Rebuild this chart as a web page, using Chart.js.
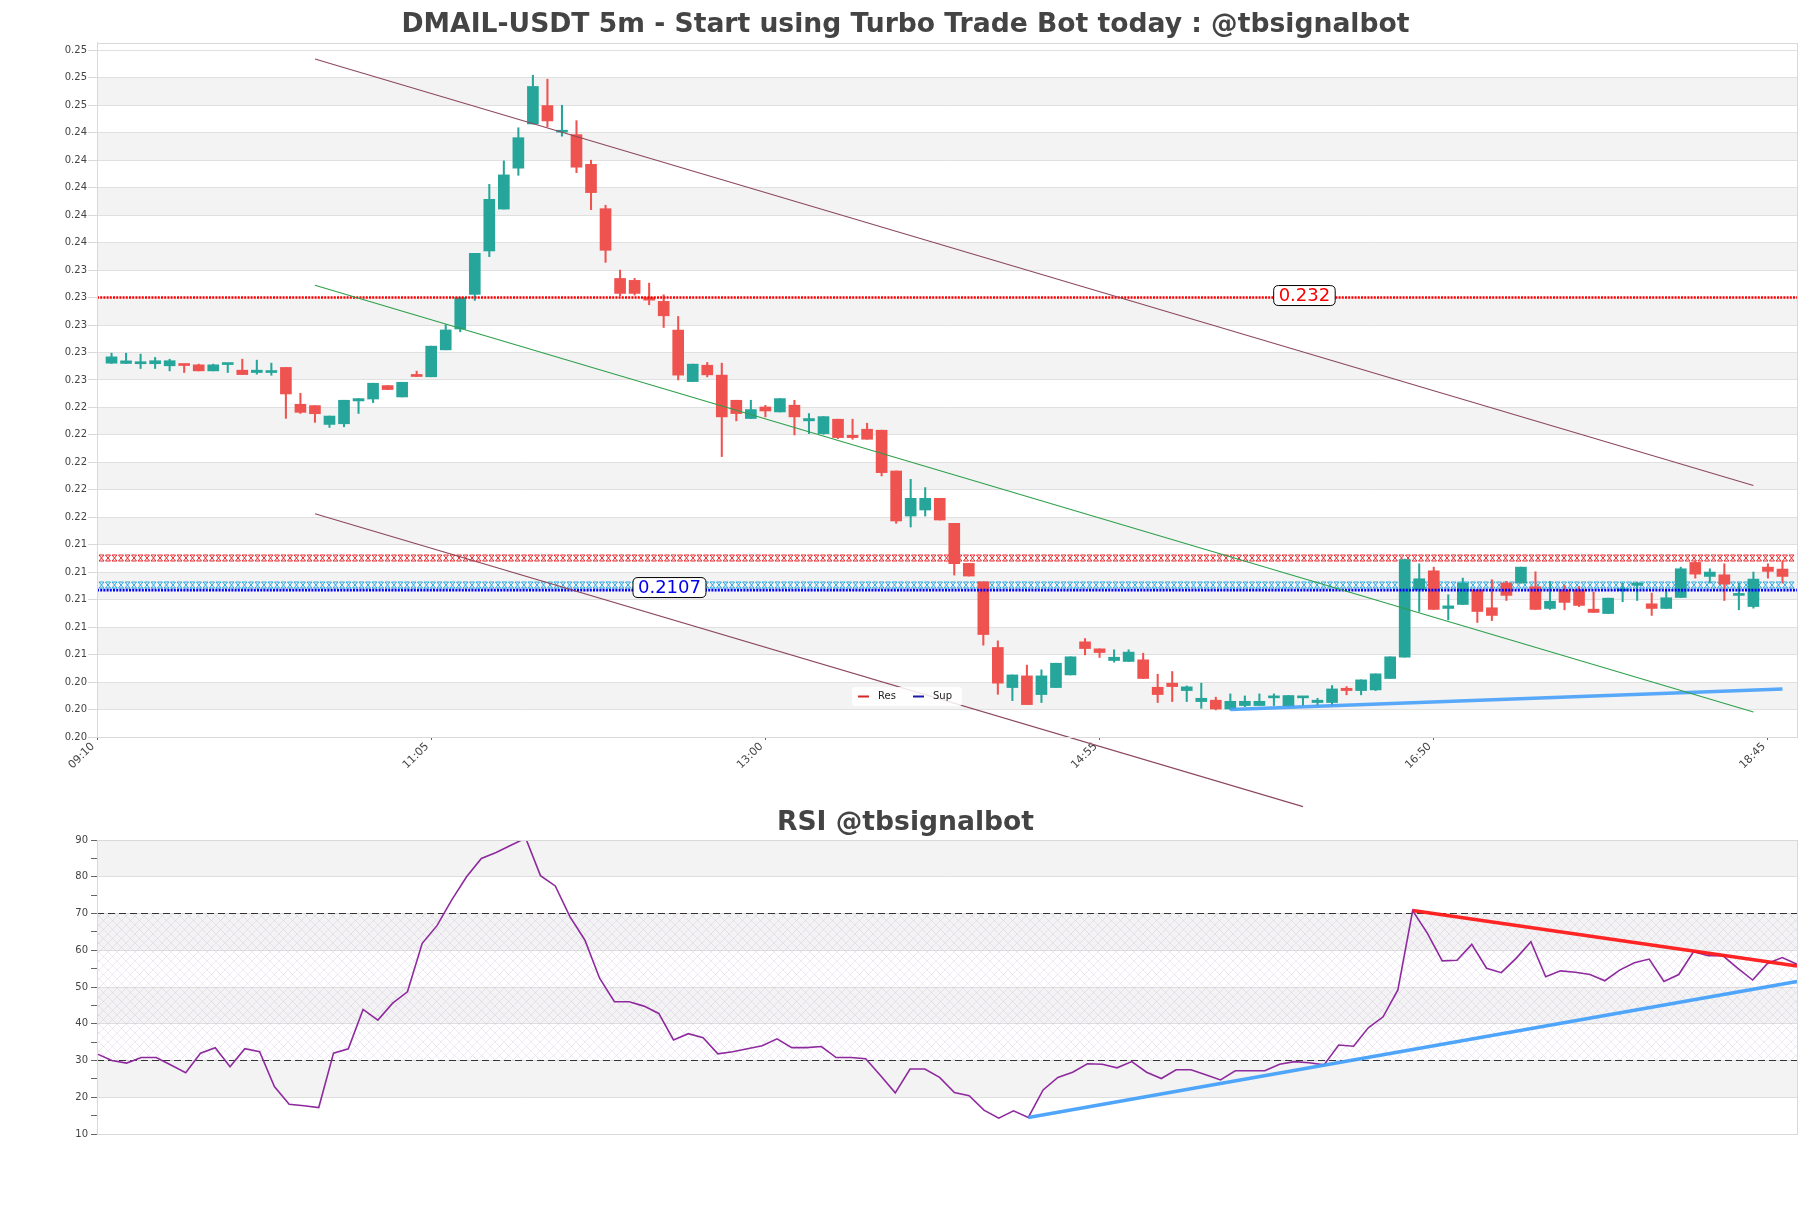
<!DOCTYPE html>
<html><head><meta charset="utf-8">
<script src="https://cdn.jsdelivr.net/npm/chart.js@4.4.1/dist/chart.umd.min.js"></script>
<style>
html,body{margin:0;padding:0;background:#fff;width:1811px;height:1208px;overflow:hidden;}
#main{position:absolute;left:0;top:0;}
#rsi{position:absolute;left:0;top:790px;}
</style></head><body>
<canvas id="main" width="1811" height="810"></canvas>
<canvas id="rsi" width="1811" height="418"></canvas>
<script>
// ---------------- DATA ----------------
const times = [
 '09:15','09:20','09:25','09:30','09:35','09:40','09:45','09:50','09:55',
 '10:00','10:05','10:10','10:15','10:20','10:25','10:30','10:35','10:40','10:45','10:50','10:55',
 '11:00','11:05','11:10','11:15','11:20','11:25','11:30','11:35','11:40','11:45','11:50','11:55',
 '12:00','12:05','12:10','12:15','12:20','12:25','12:30','12:35','12:40','12:45','12:50','12:55',
 '13:00','13:05','13:10','13:15','13:20','13:25','13:30','13:35','13:40','13:45','13:50','13:55',
 '14:00','14:05','14:10','14:15','14:20','14:25','14:30','14:35','14:40','14:45','14:50','14:55',
 '15:00','15:05','15:10','15:15','15:20','15:25','15:30','15:35','15:40','15:45','15:50','15:55',
 '16:00','16:05','16:10','16:15','16:20','16:25','16:30','16:35','16:40','16:45','16:50','16:55',
 '17:00','17:05','17:10','17:15','17:20','17:25','17:30','17:35','17:40','17:45','17:50','17:55',
 '18:00','18:05','18:10','18:15','18:20','18:25','18:30','18:35','18:40','18:45','18:50'
];
const axisStart = '09:10';
const axisEnd = '18:55';
const xTickLabels = ['09:10','11:05','13:00','14:55','16:50','18:45'];

const opens = [
 0.22722,0.22720,0.22718,0.22718,0.22703,0.22715,0.22710,0.22666,0.22712,0.22671,
 0.22654,0.22654,0.22691,0.22423,0.22413,0.22276,0.22281,0.22447,0.22461,0.22559,
 0.22476,0.22640,0.22623,0.22819,0.22971,0.23223,0.23539,0.23844,0.24142,0.24464,
 0.24598,0.24404,0.24386,0.24170,0.23847,0.23339,0.23325,0.23200,0.23172,0.22963,
 0.22588,0.22707,0.22635,0.22452,0.22319,0.22403,0.22367,0.22416,0.22302,0.22209,
 0.22314,0.22197,0.22241,0.22234,0.21937,0.21609,0.21653,0.21738,0.21556,0.21264,
 0.21130,0.20652,0.20360,0.20445,0.20309,0.20360,0.20452,0.20693,0.20642,0.20557,
 0.20550,0.20562,0.20362,0.20392,0.20338,0.20258,0.20268,0.20204,0.20229,0.20229,
 0.20285,0.20226,0.20285,0.20251,0.20251,0.20355,0.20338,0.20343,0.20426,0.20581,
 0.21072,0.21210,0.20936,0.20965,0.21072,0.20941,0.21121,0.21121,0.21094,0.20936,
 0.21072,0.21072,0.20931,0.20899,0.21065,0.21104,0.20970,0.20936,0.21016,0.21271,
 0.21169,0.21181,0.21031,0.20950,0.21237,0.21223
];
const highs = [
 0.22795,0.22795,0.22788,0.22764,0.22751,0.22715,0.22715,0.22715,0.22718,0.22751,
 0.22744,0.22722,0.22691,0.22503,0.22413,0.22337,0.22452,0.22464,0.22576,0.22559,
 0.22583,0.22664,0.22846,0.23002,0.23200,0.23522,0.24024,0.24195,0.24436,0.24819,
 0.24790,0.24600,0.24488,0.24200,0.23872,0.23400,0.23339,0.23305,0.23220,0.23062,
 0.22715,0.22727,0.22722,0.22452,0.22452,0.22415,0.22464,0.22452,0.22355,0.22333,
 0.22314,0.22314,0.22285,0.22234,0.21937,0.21876,0.21816,0.21738,0.21556,0.21264,
 0.21130,0.20700,0.20452,0.20523,0.20489,0.20537,0.20584,0.20717,0.20642,0.20635,
 0.20635,0.20610,0.20457,0.20477,0.20372,0.20392,0.20290,0.20314,0.20299,0.20314,
 0.20314,0.20302,0.20294,0.20282,0.20375,0.20367,0.20416,0.20460,0.20584,0.21296,
 0.21261,0.21237,0.21036,0.21157,0.21072,0.21145,0.21133,0.21237,0.21203,0.21133,
 0.21104,0.21096,0.21055,0.21011,0.21121,0.21126,0.21048,0.21072,0.21237,0.21283,
 0.21225,0.21261,0.21121,0.21201,0.21261,0.21279
];
const lows = [
 0.22720,0.22720,0.22683,0.22683,0.22666,0.22654,0.22666,0.22666,0.22654,0.22639,
 0.22642,0.22634,0.22320,0.22356,0.22291,0.22254,0.22259,0.22356,0.22435,0.22530,
 0.22476,0.22625,0.22623,0.22819,0.22951,0.23179,0.23498,0.23844,0.24090,0.24464,
 0.24443,0.24375,0.24109,0.23840,0.23456,0.23213,0.23218,0.23147,0.22982,0.22600,
 0.22588,0.22622,0.22042,0.22302,0.22319,0.22331,0.22367,0.22200,0.22209,0.22204,
 0.22173,0.22168,0.22168,0.21901,0.21556,0.21529,0.21609,0.21580,0.21179,0.21172,
 0.20669,0.20311,0.20265,0.20236,0.20251,0.20360,0.20452,0.20598,0.20579,0.20545,
 0.20550,0.20426,0.20251,0.20258,0.20258,0.20209,0.20197,0.20197,0.20221,0.20229,
 0.20229,0.20221,0.20229,0.20229,0.20229,0.20307,0.20307,0.20338,0.20426,0.20581,
 0.20914,0.20929,0.20853,0.20965,0.20834,0.20848,0.20994,0.21121,0.20929,0.20929,
 0.20926,0.20950,0.20907,0.20899,0.20985,0.20994,0.20885,0.20936,0.21016,0.21157,
 0.21121,0.20994,0.20926,0.20938,0.21157,0.21121
];
const closes = [
 0.22768,0.22739,0.22722,0.22740,0.22740,0.22705,0.22666,0.22710,0.22718,0.22639,
 0.22671,0.22664,0.22498,0.22364,0.22354,0.22337,0.22452,0.22464,0.22576,0.22530,
 0.22583,0.22625,0.22846,0.22964,0.23200,0.23522,0.23915,0.24093,0.24364,0.24737,
 0.24486,0.24411,0.24149,0.23964,0.23544,0.23230,0.23230,0.23181,0.23067,0.22635,
 0.22715,0.22637,0.22331,0.22355,0.22384,0.22374,0.22464,0.22331,0.22319,0.22333,
 0.22180,0.22180,0.22168,0.21925,0.21573,0.21738,0.21738,0.21580,0.21262,0.21172,
 0.20746,0.20392,0.20452,0.20236,0.20445,0.20537,0.20584,0.20644,0.20615,0.20581,
 0.20618,0.20426,0.20309,0.20367,0.20365,0.20282,0.20204,0.20260,0.20260,0.20260,
 0.20292,0.20302,0.20292,0.20268,0.20350,0.20338,0.20416,0.20460,0.20584,0.21291,
 0.21152,0.20929,0.20955,0.21121,0.20914,0.20885,0.21031,0.21237,0.20929,0.20989,
 0.20980,0.20958,0.20907,0.21011,0.21072,0.21121,0.20936,0.21014,0.21225,0.21186,
 0.21201,0.21113,0.21036,0.21150,0.21206,0.21169
];
const priceTicks = [
 0.200,0.202,0.204,0.206,0.208,0.210,0.212,0.214,0.216,0.218,0.220,0.222,0.224,
 0.226,0.228,0.230,0.232,0.234,0.236,0.238,0.240,0.242,0.244,0.246,0.248,0.250
];
const resLevel = 0.232;
const supLevel = 0.2107;
const zoneLevels = [0.2130, 0.2111];
const upperChannel = [0.24937, 0.21832];
const middleChannel = [0.23289, 0.20182];
const channelTimes = ['10:25', '18:40'];
const lowerChannel = [0.21626, 0.19493];
const lowerChannelTimes = ['10:25', '16:05'];
const supportTrend = [0.2020, 0.2035];
const supportTrendTimes = ['15:40', '18:50'];

const rsiValues = [
 31.8,30.0,29.3,30.8,30.8,28.8,26.7,32.0,33.5,28.3,
 33.2,32.4,22.9,18.1,17.7,17.2,32.0,33.2,43.9,41.0,
 45.6,48.7,61.9,66.7,73.7,80.0,85.0,86.6,88.6,90.5,
 80.3,77.5,69.1,62.8,52.4,46.0,46.0,44.8,42.8,35.6,
 37.3,36.2,31.8,32.4,33.2,34.0,35.9,33.5,33.5,33.8,
 30.8,30.8,30.5,25.9,21.2,27.7,27.7,25.4,21.3,20.4,
 16.5,14.3,16.3,14.5,22.0,25.4,26.8,29.1,29.0,28.0,
 29.7,26.8,25.1,27.5,27.5,26.1,24.7,27.2,27.2,27.2,
 29.0,29.7,29.4,28.8,34.2,33.9,38.9,41.9,49.2,70.8,
 64.6,57.1,57.3,61.6,55.1,53.9,57.8,62.3,52.8,54.4,
 54.0,53.4,51.7,54.6,56.6,57.6,51.5,53.4,59.6,58.5,
 58.5,55.1,51.9,56.4,58.0,56.2
];
const rsiLevels = [30, 70];
const rsiResTrend = [70.8, 55.7];
const rsiResTimes = ['16:40', '18:50'];
const rsiSupTrend = [14.5, 51.5];
const rsiSupTimes = ['14:30', '18:50'];

// ---------------- CHARTS ----------------
Chart.defaults.font.family = "'DejaVu Sans', sans-serif";
Chart.defaults.color = '#444';

const UP = '#26a69a', DOWN = '#ef5350';
const axisCats = [axisStart, ...times, axisEnd];
const candleCols = [null, ...opens.map((o, i) => closes[i] >= o ? UP : DOWN), null];
const bodyData = [null, ...opens.map((o, i) => [o, closes[i]]), null];
const wickData = [null, ...lows.map((l, i) => [l, highs[i]]), null];
const seg = (ts, vs) => ts.map((t, i) => ({x: t, y: vs[i]}));
const flat = v => [{x: axisStart, y: v}, {x: axisEnd, y: v}];

function roundRect(ctx, x, y, w, h, r) {
  ctx.beginPath();
  ctx.moveTo(x + r, y); ctx.lineTo(x + w - r, y); ctx.quadraticCurveTo(x + w, y, x + w, y + r);
  ctx.lineTo(x + w, y + h - r); ctx.quadraticCurveTo(x + w, y + h, x + w - r, y + h);
  ctx.lineTo(x + r, y + h); ctx.quadraticCurveTo(x, y + h, x, y + h - r);
  ctx.lineTo(x, y + r); ctx.quadraticCurveTo(x, y, x + r, y); ctx.closePath();
}
function drawBands(chart, tickVals) {
  const {ctx, chartArea: a, scales: {y}} = chart;
  ctx.save();
  ctx.fillStyle = '#f3f3f3';
  for (let k = 0; k < tickVals.length - 1; k++) {
    if (k % 2 === 1) {
      const y0 = y.getPixelForValue(tickVals[k]), y1 = y.getPixelForValue(tickVals[k + 1]);
      ctx.fillRect(a.left, y1, a.right - a.left, y0 - y1);
    }
  }
  ctx.restore();
}
function drawFrame(chart) {
  const {ctx, chartArea: a} = chart;
  ctx.save(); ctx.strokeStyle = '#d9d9d9'; ctx.lineWidth = 1;
  ctx.strokeRect(Math.round(a.left) + 0.5, Math.round(a.top) + 0.5, Math.round(a.right - a.left), Math.round(a.bottom - a.top));
  ctx.restore();
}
function drawChain(ctx, x0, x1, y, color) {
  ctx.save();
  ctx.strokeStyle = color; ctx.lineWidth = 1;
  const h = 3;
  ctx.beginPath();
  for (let x = x0 + 2; x + 5 <= x1; x += 6.5) {
    ctx.moveTo(x, y - h); ctx.lineTo(x + 5, y + h);
    ctx.moveTo(x + 5, y - h); ctx.lineTo(x, y + h);
    ctx.moveTo(x, y - h); ctx.lineTo(x + 5, y - h);
    ctx.moveTo(x, y + h); ctx.lineTo(x + 5, y + h);
  }
  ctx.stroke();
  ctx.restore();
}
function drawTag(ctx, text, cx, cy, color) {
  ctx.save();
  ctx.font = "18px 'DejaVu Sans'";
  const w = ctx.measureText(text).width + 10, h = 20;
  roundRect(ctx, cx - w / 2, cy - h / 2, w, h, 5);
  ctx.fillStyle = '#fff'; ctx.fill();
  ctx.strokeStyle = '#000'; ctx.lineWidth = 1; ctx.stroke();
  ctx.fillStyle = color; ctx.textAlign = 'center'; ctx.textBaseline = 'middle';
  ctx.fillText(text, cx, cy + 1);
  ctx.restore();
}

const mainDecor = {
  id: 'mainDecor',
  beforeDraw(chart) { drawBands(chart, priceTicks); },
  beforeDatasetsDraw(chart) {
    const {ctx, chartArea: a, scales: {y}} = chart;
    const cols = ['#e8262b', '#29a8e0'];
    zoneLevels.forEach((v, i) => drawChain(ctx, a.left, a.right, Math.round(y.getPixelForValue(v)), cols[i]));
  },
  afterDatasetsDraw(chart) {
    const {ctx, chartArea: a, scales: {x, y}} = chart;
    drawTag(ctx, resLevel.toString(), x.getPixelForValue(83.1), y.getPixelForValue(resLevel) - 2, '#ff0000');
    drawTag(ctx, supLevel.toString(), x.getPixelForValue(39.4), y.getPixelForValue(supLevel) - 2.5, '#0000ee');
    // legend
    const items = chart.data.datasets.filter(d => d.label === 'Res' || d.label === 'Sup');
    const bx = a.left + 755, by = a.bottom - 50, bw = 110, bh = 19;
    ctx.save();
    roundRect(ctx, bx, by, bw, bh, 3);
    ctx.fillStyle = 'rgba(255,255,255,0.85)'; ctx.fill();
    ctx.font = "10px 'DejaVu Sans'"; ctx.textBaseline = 'middle';
    items.forEach((d, i) => {
      const ox = bx + 6 + i * 55;
      ctx.strokeStyle = d.legendColor; ctx.lineWidth = 2;
      ctx.beginPath(); ctx.moveTo(ox, by + bh / 2); ctx.lineTo(ox + 11, by + bh / 2); ctx.stroke();
      ctx.fillStyle = '#222'; ctx.fillText(d.label, ox + 20, by + bh / 2);
    });
    ctx.restore();
  },
  afterDraw(chart) { drawFrame(chart); }
};

new Chart(document.getElementById('main'), {
  type: 'bar',
  data: {
    labels: axisCats,
    datasets: [
      {type: 'bar', data: wickData, backgroundColor: candleCols, barThickness: 1.4, grouped: false, order: 4},
      {type: 'bar', data: bodyData, backgroundColor: candleCols, barThickness: 11, minBarLength: 2, grouped: false, order: 3},
      {type: 'line', label: 'Res', legendColor: '#d62728', data: flat(resLevel), borderColor: '#ff0000', borderWidth: 2.5, borderDash: [2, 1.2], pointRadius: 0, order: 1},
      {type: 'line', label: 'Sup', legendColor: '#1a1aa8', data: flat(supLevel), borderColor: '#0000ff', borderWidth: 2.8, borderDash: [2, 1.2], pointRadius: 0, order: 1},
      {type: 'line', data: seg(channelTimes, upperChannel), borderColor: 'rgb(140,72,92)', borderWidth: 1.1, pointRadius: 0, order: 0},
      {type: 'line', data: seg(channelTimes, middleChannel), borderColor: 'rgb(45,160,75)', borderWidth: 1.1, pointRadius: 0, order: 0},
      {type: 'line', data: seg(lowerChannelTimes, lowerChannel), borderColor: 'rgb(140,72,92)', borderWidth: 1.1, pointRadius: 0, order: 0, clip: false},
      {type: 'line', data: seg(supportTrendTimes, supportTrend), borderColor: 'rgba(70,160,250,0.9)', borderWidth: 3.5, pointRadius: 0, order: 0}
    ]
  },
  options: {
    responsive: false, animation: false, devicePixelRatio: 1, events: [],
    layout: {padding: {left: 14, right: 14, top: 0, bottom: 0}},
    plugins: {
      legend: {display: false}, tooltip: {enabled: false},
      title: {display: true, text: 'DMAIL-USDT 5m - Start using Turbo Trade Bot today : @tbsignalbot',
        font: {size: 26.6, weight: 'bold'}, color: '#444', padding: {top: 9, bottom: 2}}
    },
    scales: {
      x: {
        type: 'category', offset: false,
        grid: {display: true, drawOnChartArea: false, drawTicks: true, tickLength: 3, tickColor: '#666', offset: false},
        border: {display: true, color: '#d9d9d9'},
        ticks: {autoSkip: false, minRotation: 45, maxRotation: 45, font: {size: 11}, color: '#444', padding: 0, labelOffset: -4},
        afterBuildTicks: s => { s.ticks = s.ticks.filter(t => xTickLabels.includes(axisCats[t.value])); },
        afterFit: s => { s.height = 73; }
      },
      y: {
        type: 'linear', min: 0.2, max: 0.25054,
        grid: {color: '#e0e0e0', tickLength: 9, tickColor: '#d9d9d9'},
        border: {display: true, color: '#d9d9d9'},
        ticks: {font: {size: 10}, color: '#444', padding: 1, callback: v => Number(v).toFixed(2)},
        afterBuildTicks: s => { s.ticks = priceTicks.map(v => ({value: v})); },
        afterFit: s => { s.width = 83; }
      }
    }
  },
  plugins: [mainDecor]
});

// ---------------- RSI ----------------
function makeHatch() {
  const c = document.createElement('canvas'); c.width = 9; c.height = 9;
  const g = c.getContext('2d');
  g.strokeStyle = 'rgba(185,160,210,0.32)'; g.lineWidth = 0.7;
  g.beginPath(); g.moveTo(0, 0); g.lineTo(9, 9); g.moveTo(9, 0); g.lineTo(0, 9); g.stroke();
  return c;
}
const rsiDecor = {
  id: 'rsiDecor',
  beforeDraw(chart) {
    const majors = chart.scales.y.ticks.map(t => t.value).filter(v => v % 10 === 0);
    drawBands(chart, majors);
  },
  beforeDatasetsDraw(chart) {
    const {ctx, chartArea: a, scales: {y}} = chart;
    const pat = ctx.createPattern(makeHatch(), 'repeat');
    const y0 = y.getPixelForValue(rsiLevels[1]), y1 = y.getPixelForValue(rsiLevels[0]);
    ctx.save(); ctx.fillStyle = pat; ctx.fillRect(a.left, y0, a.right - a.left, y1 - y0); ctx.restore();
  },
  afterDraw(chart) { drawFrame(chart); }
};

new Chart(document.getElementById('rsi'), {
  type: 'line',
  data: {
    labels: times,
    datasets: [
      {data: rsiValues, borderColor: '#8e2a9e', borderWidth: 1.6, pointRadius: 0, tension: 0, order: 2},
      ...rsiLevels.map(v => ({data: [{x: times[0], y: v}, {x: times[times.length - 1], y: v}], borderColor: '#333', borderWidth: 1.1, borderDash: [7, 4], pointRadius: 0, order: 3})),
      {data: seg(rsiResTimes, rsiResTrend), borderColor: 'rgba(255,25,25,0.95)', borderWidth: 3.5, pointRadius: 0, order: 1},
      {data: seg(rsiSupTimes, rsiSupTrend), borderColor: 'rgba(70,160,250,0.95)', borderWidth: 3.5, pointRadius: 0, order: 1}
    ]
  },
  options: {
    responsive: false, animation: false, devicePixelRatio: 1, events: [],
    layout: {padding: {left: 14, right: 14, top: 0, bottom: 0}},
    plugins: {
      legend: {display: false}, tooltip: {enabled: false},
      title: {display: true, text: 'RSI @tbsignalbot', font: {size: 26.6, weight: 'bold'}, color: '#444', padding: {top: 17.5, bottom: 0.6}}
    },
    scales: {
      x: {
        type: 'category', offset: false,
        grid: {display: false}, border: {display: true, color: '#d9d9d9'},
        ticks: {display: false},
        afterFit: s => { s.height = 74; }
      },
      y: {
        type: 'linear', min: 10, max: 90,
        grid: {color: c => (c.tick && c.tick.value % 10 === 0) ? '#dedede' : 'rgba(0,0,0,0)', tickLength: 6, tickColor: '#666'},
        border: {display: true, color: '#d9d9d9'},
        ticks: {stepSize: 5, font: {size: 10}, color: '#444', padding: 3, autoSkip: false,
          callback: v => (v % 10 === 0 ? String(v) : '')},
        afterFit: s => { s.width = 83; }
      }
    }
  },
  plugins: [rsiDecor]
});
</script>
</body></html>
